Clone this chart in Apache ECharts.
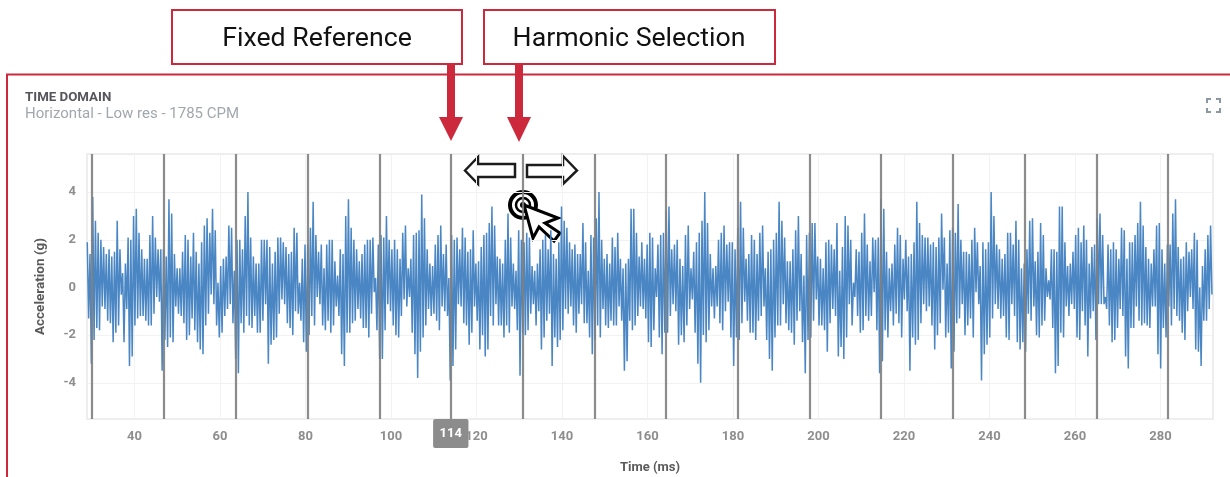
<!DOCTYPE html>
<html><head><meta charset="utf-8">
<style>html,body{margin:0;padding:0;background:#fff}#c{width:1230px;height:477px}</style>
<script src="https://cdn.jsdelivr.net/npm/echarts@6/dist/echarts.min.js"></script>
</head><body><div id="c"></div>
<script>
const xTicks=[40,60,80,100,120,140,160,180,200,220,240,260,280];
const yTicks=[-4,-2,0,2,4];
const harmonics=[30.1,46.9,63.7,80.5,97.3,114.0,130.8,147.6,164.3,181.1,197.9,214.6,231.4,248.2,265.0,281.7];
const fixedReference=114;
const peaks1=[1.9,1.4,3.8,2.8,2.3,2.0,1.7,1.4,1.6,1.3,1.5,2.8,1.6,0.6,1.0,2.1,2.0,3.0,3.3,2.3,1.6,1.2,1.2,2.2,3.0,2.1,1.6,1.6,1.6,1.3,3.7,3.1,1.4,0.8,0.8,1.5,2.2,2.0,1.3,2.3,1.5,1.0,1.9,2.6,2.9,2.3,3.3,2.4,0.2,0.9,1.2,1.3,2.6,2.5,0.7,2.0,2.0,1.6,3.0,4.0,2.1,1.3,1.0,1.0,2.0,2.0,2.0,1.7,1.0,1.2,1.6,3.0,2.8];
const troughs1=[-1.3,-3.2,-2.2,-1.7,-1.8,-0.8,-0.9,-1.4,-1.5,-2.3,-1.9,-1.6,-0.3,-2.3,-0.9,-3.3,-2.9,-1.6,-1.3,-1.2,-1.2,-1.4,-1.6,-1.6,-1.1,-0.4,-0.6,-3.5,-2.2,-2.5,-2.1,-2.3,-0.8,-1.1,-1.2,-1.5,-2.2,-2.0,-1.3,-1.8,-2.3,-2.6,-2.8,-1.6,-1.1,-0.3,-0.7,-1.6,-2.1,-1.9,-1.2,-0.9,-0.7,-1.5,-3.0,-3.6,-1.5,-1.9,-1.2,-1.6,-1.7,-1.2,-1.9,-1.9,-1.4,-0.7,-3.2,-2.4,-2.2];
const peaks2=[1.5,2.1,2.1,1.9,1.7,1.4,1.5,2.5,2.3,0.2,1.2,1.8,1.8,2.5,3.6,2.2,1.5,1.8,0.8,1.8,2.0,2.0,1.1,0.5,1.6,1.4,3.0,3.7,2.5,2.0,1.6,1.1,1.4,1.8,2.0,2.0,2.1,0.4,1.8,2.2,2.1,3.0,2.0,1.6,2.0,1.6,1.2,2.3,2.6,0.8,1.2,2.2,2.3,2.4,3.9,2.9,1.6,1.0,0.9,1.8,2.2,2.6,1.4,1.8,0.4,2.2,2.0,2.1,1.6,2.5,2.1,1.3,1.3,2.1];
const troughs2=[-2.1,-1.1,-0.5,-0.7,-1.5,-1.7,-2.0,-1.0,-1.1,-1.4,-2.3,-2.7,-2.0,-1.2,-1.6,-0.4,-0.7,-1.6,-1.8,-1.4,-1.9,-1.6,-0.8,-1.2,-2.8,-3.3,-1.9,-1.9,-1.5,-1.4,-0.9,-1.3,-1.7,-1.7,-2.1,-1.1,-0.2,-1.8,-3.0,-3.0,-1.8,-0.7,-1.0,-1.6,-2.0,-2.1,-1.2,-0.5,-0.8,-0.4,-1.9,-2.8,-3.8,-2.7,-2.1,-1.6,-0.9,-1.2,-1.1,-1.4,-1.8,-0.8,-1.0,-1.2,-3.9,-3.3,-2.6,-0.7,-0.8,-1.5];
const peaks3=[2.1,1.5,1.6,2.4,1.0,1.1,1.7,2.2,2.3,2.7,3.4,2.6,1.3,1.2,1.0,2.0,3.1,2.1,1.0,0.7,2.4,2.0,1.9,2.3,2.1,0.9,0.7,1.0,1.6,2.0,2.2,1.6,2.4,1.4,1.2,1.9,3.4,2.8,2.5,1.9,1.6,1.8,1.4,1.4,2.7,1.9,0.7,2.2,2.1,2.9,4.0,2.0,1.2,1.4,1.0,2.1,1.7,2.3,1.2,0.8,1.0,1.2,3.3,3.3,2.3,1.3,1.9,1.2,1.8,2.3,2.1,2.4,2.1];
const troughs3=[-1.6,-2.4,-1.9,-0.8,-1.4,-2.6,-2.0,-2.9,-2.6,-1.2,-1.6,-0.7,-1.6,-1.6,-2.1,-1.6,-1.9,-0.8,-0.9,-1.8,-3.7,-1.9,-2.0,-1.8,-1.1,-0.7,-1.6,-1.0,-2.6,-2.1,-1.4,-1.1,-3.3,-2.1,-2.5,-2.2,-1.8,-0.9,-1.1,-0.8,-1.6,-1.9,-1.1,-0.7,-1.5,-1.5,-2.1,-2.8,-2.2,-1.6,-2.1,-0.9,-1.6,-1.7,-1.4,-1.6,-1.6,-0.8,-1.4,-3.5,-3.1,-1.4,-1.8,-1.6,-1.2,-0.8,-0.9,-1.3,-2.3,-2.5,-1.8];
const peaks4=[0.8,1.8,2.2,2.3,3.2,3.4,1.6,1.8,2.0,1.2,0.9,2.2,2.6,0.8,1.5,1.9,2.3,2.8,4.0,2.7,1.4,0.8,0.9,2.0,2.3,2.6,1.8,1.9,1.9,1.6,2.5,3.6,2.5,1.2,1.4,2.2,2.0,1.4,2.3,2.6,0.8,1.5,1.6,2.0,2.3,3.6,2.8,2.1,1.1,1.1,1.6,2.4,3.0,1.4,0.5,2.2,2.3,2.7,2.7,1.3,1.2,0.8,1.9,2.0,1.8,1.6,2.7,0.7,1.7,1.7,1.9,2.1];
const troughs4=[-0.4,-2.1,-2.8,-1.9,-1.9,-1.2,-0.7,-1.0,-2.4,-2.0,-2.3,-1.6,-0.9,-0.5,-1.9,-3.2,-4.0,-2.0,-2.3,-1.8,-0.8,-1.3,-0.8,-1.5,-1.8,-1.0,-0.6,-2.1,-3.3,-2.1,-2.2,-1.5,-0.6,-1.4,-1.9,-1.9,-2.2,-1.4,-1.2,-0.8,-2.2,-3.0,-3.5,-2.1,-1.6,-1.6,-0.7,-1.5,-1.8,-1.9,-2.4,-1.4,-1.0,-2.3,-3.6,-2.2,-2.1,-1.4,-0.5,-1.6,-1.6,-1.8,-2.7,-1.5,-0.9,-1.2,-2.9,-2.5,-3.0];
const peaks5=[3.0,2.6,2.0,0.2,1.6,1.5,2.3,3.1,1.8,1.1,2.1,2.0,2.1,3.7,3.3,1.5,0.8,1.0,1.8,2.5,2.2,1.2,2.0,1.3,1.4,1.9,3.6,2.7,2.2,2.1,2.1,1.8,1.9,1.7,2.1,3.1,2.1,1.0,2.4,2.5,2.3,3.5,2.0,1.5,1.5,1.4,2.0,2.5,1.9,0.9,1.9,1.6,1.9,4.0,3.0,1.8,1.6,1.2,1.4,2.3,2.3,1.8,2.8,2.0,0.8,1.0,1.6,2.8,2.9,1.6,3.3,2.0,1.2,0.6];
const troughs5=[-2.1,-0.7,-1.6,-0.4,-1.2,-1.9,-1.8,-1.2,-1.4,-1.2,-0.2,-1.8,-3.6,-3.1,-1.8,-2.1,-1.0,-1.6,-1.1,-1.5,-2.1,-0.5,-1.0,-3.5,-2.1,-2.4,-2.2,-1.5,-0.7,-1.0,-0.8,-1.6,-2.6,-2.0,-1.5,-0.1,-2.1,-1.9,-3.4,-2.7,-1.5,-1.3,-0.7,-2.0,-1.6,-1.3,-2.1,-0.2,-0.7,-3.9,-2.8,-2.4,-2.1,-1.3,-0.7,-0.9,-1.3,-1.2,-2.1,-2.2,-0.7,-1.2,-2.3,-2.6,-2.3,-2.7,-1.1,-1.4,-0.8];
const peaks6=[1.1,1.5,2.7,2.2,0.8,0.3,1.6,1.6,1.5,3.4,3.4,1.9,0.9,1.0,1.5,2.2,2.5,1.9,2.6,2.0,1.0,1.7,1.8,2.9,3.1,2.2,-0.4,1.8,1.6,1.9,1.6,1.2,2.5,2.4,1.2,1.9,1.9,2.2,2.7,3.6,2.6,1.7,1.2,1.0,1.6,2.6,2.7,1.6,1.0,1.8,1.8,3.1,3.7,1.7,1.2,1.3,1.9,1.5,1.6,2.3,2.0,0.0,0.9,1.6,2.2,2.6,2.2,3.2,2.6,1.6,1.6];
const troughs6=[-2.0,-2.1,-1.6,-1.4,-0.4,-0.5,-1.7,-3.6,-3.3,-1.9,-2.1,-0.8,-1.2,-0.7,-0.9,-2.1,-2.2,-1.0,-1.6,-2.9,-1.3,-1.0,-2.2,-0.7,-0.7,-0.7,-0.9,-1.6,-2.3,-2.2,-1.7,-0.9,-1.2,-2.9,-3.4,-1.7,-1.7,-0.8,-1.4,-1.6,-1.5,-1.6,-1.7,-0.8,-0.8,-2.8,-3.4,-1.7,-2.1,-0.8,-1.6,-0.9,-1.2,-1.4,-1.9,-2.2,-1.0,-0.4,-0.9,-2.6,-2.7,-3.3,-1.4,-1.4,-0.9,-0.3];
const sectionStart=[28.9,72.85,117.3,161.75,206.2,250.65];
const sectionEnd=[72.85,117.3,161.75,206.2,250.65,292.3];
const allPeaks=[peaks1,peaks2,peaks3,peaks4,peaks5,peaks6];
const allTroughs=[troughs1,troughs2,troughs3,troughs4,troughs5,troughs6];

const signal=[];
allPeaks.forEach((p,s)=>{
  const t=allTroughs[s],n=Math.min(p.length,t.length),span=sectionEnd[s]-sectionStart[s];
  for(let j=0;j<n;j++){
    signal.push([sectionStart[s]+span*(j+0.1)/n,p[j]]);
    signal.push([sectionStart[s]+span*(j+0.6)/n,t[j]]);
  }
});
const RED='#cc2a3c',INK='#1c1c1c';
function box(x,y,w,h){return {type:'rect',shape:{x,y,width:w,height:h},style:{fill:'#fff',stroke:RED,lineWidth:2}};}
function label(t,x,y){return {type:'text',style:{text:t,x,y,fill:'#111',font:'400 26.7px Roboto',textAlign:'center',textVerticalAlign:'middle'}};}
function poly(points,fill,stroke,lw){return {type:'polygon',shape:{points},style:{fill,stroke:stroke||null,lineWidth:lw||0,lineJoin:'miter'}};}
function corner(points){return {type:'polyline',shape:{points},style:{stroke:'#8b97a1',lineWidth:2,fill:null}};}
const chart=echarts.init(document.getElementById('c'),null,{renderer:'canvas'});
chart.setOption({
  animation:false,
  textStyle:{fontFamily:'Roboto'},
  title:{text:'TIME DOMAIN',subtext:'Horizontal - Low res - 1785 CPM',left:25,top:91,padding:0,itemGap:3,
    textStyle:{fontFamily:'Roboto',fontSize:13.3,fontWeight:'bold',color:'#55555b'},
    subtextStyle:{fontFamily:'Roboto',fontSize:15,color:'#a2a7ad'}},
  grid:{left:87,right:17,top:154,bottom:58,outerBoundsMode:'none',show:true,borderColor:'#eeeeee',borderWidth:2},
  xAxis:{type:'value',min:28.9,max:292.3,name:'Time (ms)',nameLocation:'middle',nameGap:42,
    nameTextStyle:{fontFamily:'Roboto',fontSize:13,fontWeight:'bold',color:'#5a5a5a'},
    axisLine:{show:false},axisTick:{show:false},splitLine:{show:false},
    axisLabel:{customValues:xTicks,fontFamily:'Roboto',fontSize:13,fontWeight:'bold',color:'#8e8e8e',margin:11},
    axisPointer:{show:true,status:'show',value:fixedReference,snap:false,
      lineStyle:{color:'#8a8a8a',width:2,opacity:0},
      label:{show:true,formatter:p=>String(Math.round(p.value)),backgroundColor:'#8c8c8c',color:'#fff',fontFamily:'Roboto',fontWeight:'bold',fontSize:13,padding:[8,6.5,8,6.5],borderRadius:2,margin:0}}},
  yAxis:{type:'value',min:-5.52,max:5.6,name:'Acceleration (g)',nameLocation:'middle',nameGap:39,
    nameTextStyle:{fontFamily:'Roboto',fontSize:13.5,fontWeight:'bold',color:'#5a5a5a'},
    axisLine:{show:false},axisTick:{show:false},splitLine:{show:false},
    axisLabel:{customValues:yTicks,fontFamily:'Roboto',fontSize:13,fontWeight:'bold',color:'#8e8e8e',margin:11}},
  series:[
    {type:'line',name:'x grid',silent:true,symbol:'none',data:[],z:1,markLine:{z:1,silent:true,symbol:'none',label:{show:false},lineStyle:{color:'#f2f2f2',width:1,type:'solid'},
      data:xTicks.map(v=>({xAxis:v})).concat(yTicks.map(v=>({yAxis:v})))}},
    {type:'line',name:'Acceleration',data:signal,showSymbol:false,symbol:'none',z:2,lineStyle:{color:'#3f7fc0',width:1.5,opacity:.95}},
    {type:'line',name:'Harmonics',silent:true,symbol:'none',data:[],z:3,markLine:{z:5,silent:true,symbol:'none',label:{show:false},animation:false,
      lineStyle:{color:'#808080',width:2.2,type:'solid',opacity:.9},
      data:harmonics.map(v=>({xAxis:v}))}}
  ],
  graphic:[
    {type:'polyline',shape:{points:[[7,477],[7,74.5],[1230,74.5]]},style:{stroke:RED,lineWidth:2,fill:null}},
    box(172,10,290,54),box(484,10,291,54),
    label('Fixed Reference',317,39),label('Harmonic Selection',629,39),
    {type:'rect',shape:{x:447,y:64,width:8,height:54},style:{fill:RED}},
    poly([[439,117],[463,117],[451,141]],RED),
    {type:'rect',shape:{x:515,y:64,width:8,height:54},style:{fill:RED}},
    poly([[507,117],[531,117],[519,142]],RED),
    poly([[465,170.5],[478,157],[478,164],[515,164],[515,177],[478,177],[478,184]],'#fff',INK,2.5),
    poly([[577,170.5],[563,156],[563,165],[527,165],[527,177],[563,177],[563,184]],'#fff',INK,2.5),
    {type:'circle',shape:{cx:523,cy:205,r:13},style:{fill:'#fff',stroke:'#000',lineWidth:4}},
    {type:'circle',shape:{cx:523,cy:205,r:7},style:{fill:'#fff',stroke:'#000',lineWidth:2.5}},
    {type:'circle',shape:{cx:523,cy:205,r:3},style:{fill:'#000'}},
    poly([[524,205],[558,218],[545,223],[560,233],[554,241],[539,227],[533,238]],'#fff','#000',3),
    corner([[1207,103],[1207,99],[1211,99]]),corner([[1216,99],[1220,99],[1220,103]]),
    corner([[1220,108],[1220,112],[1216,112]]),corner([[1211,112],[1207,112],[1207,108]])
  ]
});
</script></body></html>
